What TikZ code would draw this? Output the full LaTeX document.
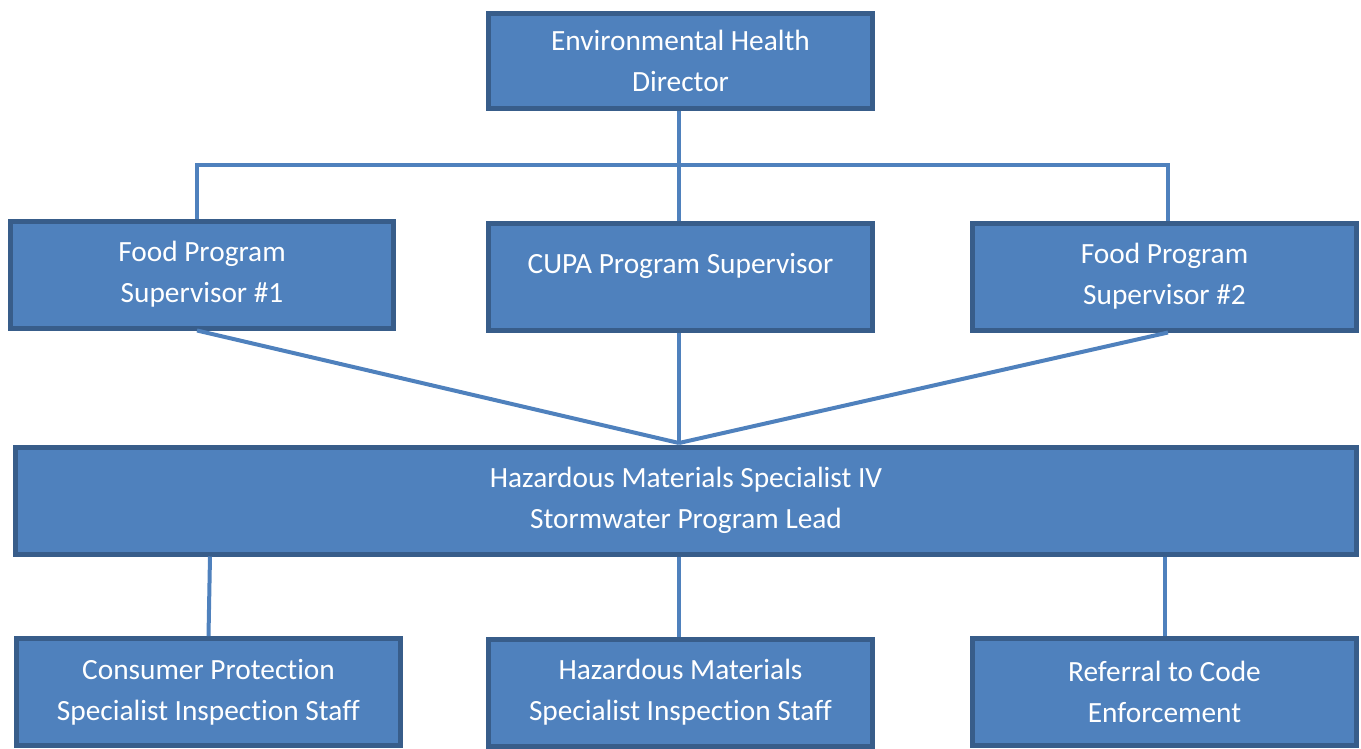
\documentclass[tikz,border=0pt]{standalone}
\usepackage{fontspec}
\setmainfont{Carlito}[Ligatures=NoCommon]
\usepackage{xcolor}
\usepackage{tikz}
\definecolor{boxfill}{HTML}{4F81BD}
\definecolor{boxline}{HTML}{385D8A}

\begin{document}
\begin{tikzpicture}[x=0.02cm, y=-0.02cm,
    unit/.style={draw=boxline, fill=boxfill, line width=0.1cm, text=white,
      minimum width=7.68cm, minimum height=2.14cm, align=center,
      font=\fontsize{16.7}{23.2}\selectfont},
    wide/.style={unit, minimum width=26.82cm},
    link/.style={draw=boxfill, line width=0.08cm}]
    \useasboundingbox (0,0) rectangle (1361,748);

    % top
    \node[unit, minimum height=1.92cm] (director) at (680.5,61) {Environmental Health\\Director};

    % supervisors
    \node[unit] (food1) at (202,274.5) {Food Program\\Supervisor \#1};
    \node[unit] (cupa) at (680.5,277) {\raisebox{0.56cm}{CUPA Program Supervisor}};
    \node[unit] (food2) at (1164.5,276.5) {Food Program\\Supervisor \#2};

    % lead
    \node[wide] (lead) at (686,500.5) {Hazardous Materials Specialist IV\\Stormwater Program Lead};

    % staff
    \node[unit] (consumer) at (208.5,692) {Consumer Protection\\Specialist Inspection Staff};
    \node[unit] (hazstaff) at (680.5,692.5) {Hazardous Materials\\Specialist Inspection Staff};
    \node[unit] (referral) at (1164.5,692) {Referral to Code\\Enforcement};

    \coordinate (bar) at (679,165);
    \coordinate (meet) at (679,443);

    \draw[link] (director.south -| bar) -- (cupa.north -| bar);
    \draw[link] ([xshift=-0.1cm]food1.north) |- (bar) -| ([xshift=0.07cm]food2.north);
    \draw[link] ([xshift=-0.1cm]food1.south) -- (meet);
    \draw[link] (cupa.south -| meet) -- (meet);
    \draw[link] ([xshift=0.07cm]food2.south) -- (meet);

    \draw[link] ([xshift=0.03cm]lead.south -| consumer.north) -- (consumer.north);
    \draw[link] (lead.south -| meet) -- (hazstaff.north -| meet);
    \draw[link] (lead.south -| referral.north) -- (referral.north);
\end{tikzpicture}
\end{document}
